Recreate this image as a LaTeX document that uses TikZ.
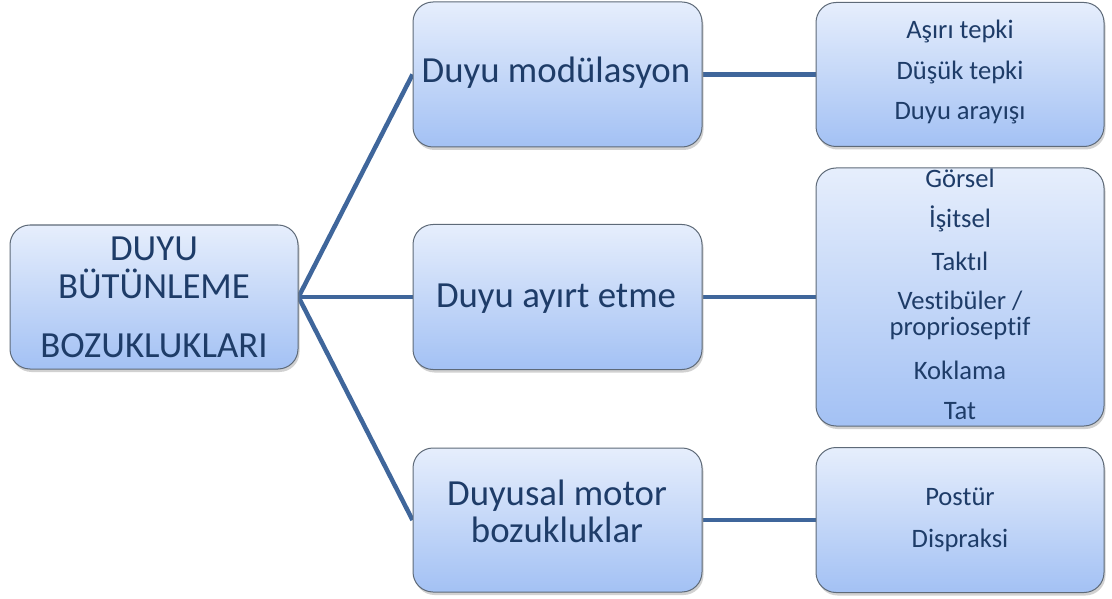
\documentclass[tikz,border=0pt]{standalone}
\usepackage{fontspec}
\setmainfont{Carlito}[Ligatures={NoCommon}]
\usetikzlibrary{shadows,backgrounds}
\definecolor{boxtop}{HTML}{E6EEFC}
\definecolor{boxbot}{HTML}{A3C1F4}
\definecolor{boxline}{HTML}{5E6A78}
\definecolor{txt}{HTML}{1E3C68}
\definecolor{conn}{HTML}{3F669B}
\tikzset{
  box/.style={draw=boxline, line width=1pt, rounded corners=20pt,
    top color=boxtop, bottom color=boxbot, inner sep=0pt,
    drop shadow={shadow xshift=1.5pt, shadow yshift=-3pt, fill=black!45, opacity=.4}},
  bigtxt/.style={anchor=base, text=txt, inner sep=0pt, font=\fontsize{36.8}{38}\selectfont},
  smalltxt/.style={anchor=base, text=txt, inner sep=0pt, font=\fontsize{26.6}{27}\selectfont},
  conn/.style={draw=conn, line width=4.5pt}
}
\begin{document}
\begin{tikzpicture}[x=1pt,y=-1pt]
\useasboundingbox (0,0) rectangle (1112,599);
% boxes
\node[box, minimum width=288pt, minimum height=144pt] (root) at (154,297) {};
\node[box, minimum width=289pt, minimum height=145pt] (m1) at (557.5,74.5) {};
\node[box, minimum width=289pt, minimum height=145pt] (m2) at (557.5,297) {};
\node[box, minimum width=289pt, minimum height=144pt] (m3) at (557.5,520) {};
\node[box, minimum width=288pt, minimum height=144pt] (r1) at (960,74.5) {};
\node[box, minimum width=288pt, minimum height=258pt] (r2) at (960,297) {};
\node[box, minimum width=288pt, minimum height=145pt] (r3) at (960,520) {};
% connectors
\begin{scope}[on background layer]
\draw[conn] (root.east) -- (m1.west);
\draw[conn] (root.east) -- (m2.west);
\draw[conn] (root.east) -- (m3.west);
\draw[conn] (m1.east) -- (r1.west);
\draw[conn] (m2.east) -- (r2.west);
\draw[conn] (m3.east) -- (r3.west);
\end{scope}
% texts
\node[bigtxt] (t0a) at (154,260) {DUYU};
\node[bigtxt] (t0b) at (154,298) {BÜTÜNLEME};
\node[bigtxt] (t0c) at (154,357) {BOZUKLUKLARI};
\node[bigtxt] (t1) at (556,83) {Duyu modülasyon};
\node[bigtxt] (t2) at (556,307) {Duyu ayırt etme};
\node[bigtxt] (t3a) at (557,505) {Duyusal motor};
\node[bigtxt] (t3b) at (557,542) {bozukluklar};
\node[smalltxt] (r1a) at (960,39) {Aşırı tepki};
\node[smalltxt] (r1b) at (960,80) {Düşük tepki};
\node[smalltxt] (r1c) at (960,120) {Duyu arayışı};
\node[smalltxt] (r2a) at (960,188) {Görsel};
\node[smalltxt] (r2b) at (960,228) {İşitsel};
\node[smalltxt] (r2c) at (960,270) {Taktıl};
\node[smalltxt] (r2d) at (960,309) {Vestibüler /};
\node[smalltxt] (r2e) at (960,335) {proprioseptif};
\node[smalltxt] (r2f) at (960,379) {Koklama};
\node[smalltxt] (r2g) at (960,419) {Tat};
\node[smalltxt] (r3a) at (960,505) {Postür};
\node[smalltxt] (r3b) at (960,547) {Dispraksi};
\end{tikzpicture}
\end{document}
